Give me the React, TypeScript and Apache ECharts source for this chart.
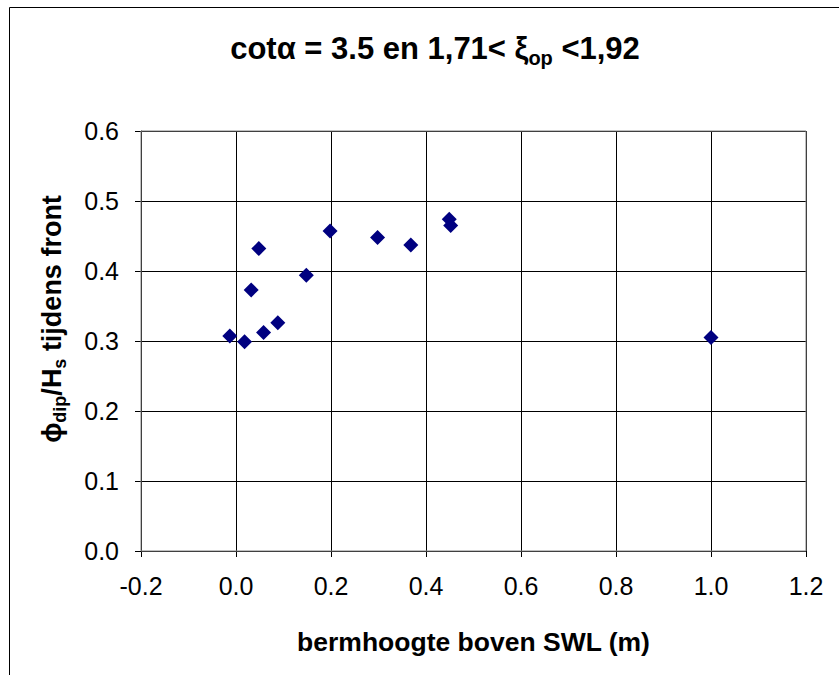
import React, { useEffect, useRef } from "react";
import * as echarts from "echarts";

const xValues = [-0.013, 0.018, 0.032, 0.048, 0.058, 0.088, 0.148, 0.198, 0.298, 0.368, 0.449, 0.452, 1.0];
const yValues = [0.307, 0.299, 0.373, 0.432, 0.312, 0.326, 0.394, 0.457, 0.448, 0.437, 0.474, 0.465, 0.305];
const xTicks = [-0.2, 0.0, 0.2, 0.4, 0.6, 0.8, 1.0, 1.2];
const yTicks = [0.0, 0.1, 0.2, 0.3, 0.4, 0.5, 0.6];

const FONT = "Liberation Sans, Arial, sans-serif";

export default function App() {
  const ref = useRef<HTMLDivElement>(null);
  useEffect(() => {
    if (!ref.current) return;
    const chart = echarts.init(ref.current, undefined, { renderer: "svg" });
    const data = xValues.map((x, i) => [x, yValues[i]]);
    chart.setOption({
      animation: false,
      backgroundColor: "#ffffff",
      textStyle: { fontFamily: FONT },
      grid: {
        left: 141,
        top: 131,
        right: 33,
        bottom: 124,
        show: true,
        borderColor: "#808080",
        borderWidth: 1,
        backgroundColor: "transparent",
        z: 3,
      },
      xAxis: {
        type: "value",
        min: xTicks[0],
        max: xTicks[xTicks.length - 1],
        interval: 0.2,
        axisLine: { show: true, onZero: false, lineStyle: { color: "#000", width: 1 } },
        axisTick: { show: true, length: 6, inside: false, lineStyle: { color: "#000" } },
        splitLine: { show: true, lineStyle: { color: "#000", width: 1 } },
        axisLabel: {
          color: "#000",
          fontSize: 25,
          fontFamily: FONT,
          margin: 22,
          formatter: (v: number) => v.toFixed(1),
        },
        name: "bermhoogte boven SWL (m)",
        nameLocation: "middle",
        nameGap: 77,
        nameTextStyle: { color: "#000", fontSize: 26.5, fontWeight: "bold", fontFamily: FONT },
      },
      yAxis: {
        type: "value",
        min: yTicks[0],
        max: yTicks[yTicks.length - 1],
        interval: 0.1,
        axisLine: { show: true, onZero: false, lineStyle: { color: "#000", width: 1 } },
        axisTick: { show: true, length: 6, inside: false, lineStyle: { color: "#000" } },
        splitLine: { show: true, lineStyle: { color: "#000", width: 1 } },
        axisLabel: {
          color: "#000",
          fontSize: 25,
          fontFamily: FONT,
          margin: 22,
          formatter: (v: number) => v.toFixed(1),
        },
      },
      title: {
        text: "{a|cotα = 3.5 en 1,71< ξ}{s|op}{a| <1,92}",
        left: 430,
        top: 23,
        textAlign: "center",
        textStyle: {
          rich: {
            a: { fontSize: 31, fontWeight: "bold", color: "#000", fontFamily: FONT, lineHeight: 40, verticalAlign: "middle" },
            s: { fontSize: 20, fontWeight: "bold", color: "#000", fontFamily: FONT, lineHeight: 18, verticalAlign: "bottom" },
          },
        },
      },
      graphic: [
        {
          type: "rect",
          shape: { x: 9.5, y: 7.5, width: 840, height: 700 },
          style: { fill: "none", stroke: "#000", lineWidth: 1 },
          silent: true,
          z: 0,
        },
        {
          type: "text",
          x: 52,
          y: 319,
          rotation: Math.PI / 2,
          style: {
            text: "{a|ϕ}{s|dip}{a|/H}{s|s}{a| tijdens front}",
            align: "center",
            verticalAlign: "middle",
            rich: {
              a: { fontSize: 27, fontWeight: "bold", fill: "#000", fontFamily: FONT, lineHeight: 34, verticalAlign: "middle" },
              s: { fontSize: 18, fontWeight: "bold", fill: "#000", fontFamily: FONT, lineHeight: 16, verticalAlign: "bottom" },
            },
          },
          z: 10,
        },
      ],
      series: [
        {
          type: "scatter",
          data,
          symbol: "diamond",
          symbolSize: 15,
          itemStyle: { color: "#000080", opacity: 1 },
          z: 5,
        },
      ],
    });
    return () => chart.dispose();
  }, []);
  return (
    <div
      ref={ref}
      style={{ position: "fixed", left: 0, top: 0, width: 839, height: 675 }}
    />
  );
}
